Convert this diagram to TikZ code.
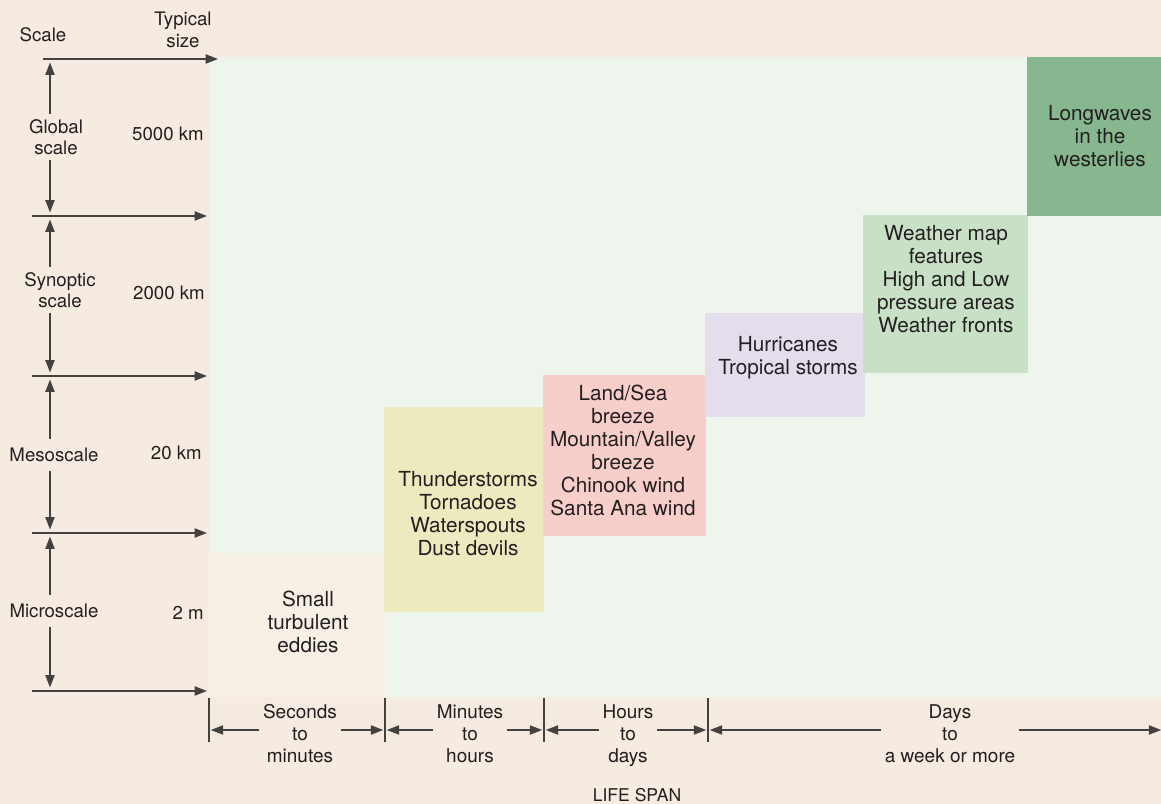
\documentclass[tikz,border=0pt]{standalone}
\usepackage{fontspec}
\setmainfont{TeX Gyre Heros}
\usetikzlibrary{arrows.meta, positioning}

\definecolor{paper}{HTML}{F5EBE0}
\definecolor{field}{HTML}{EEF5EC}
\definecolor{micro}{HTML}{F6F0E5}
\definecolor{meso}{HTML}{EDEAC0}
\definecolor{breeze}{HTML}{F8CECB}
\definecolor{storm}{HTML}{E3DDEC}
\definecolor{synop}{HTML}{C8E0C6}
\definecolor{globe}{HTML}{86B78F}
\definecolor{ink}{HTML}{231F20}

\begin{document}
\begin{tikzpicture}[
        x=0.02cm, y=-0.02cm,
        every node/.style={text=ink, font=\fontsize{10.6}{12.2}\selectfont},
        zone/.style={draw=none, inner sep=0, outer sep=0, anchor=north west},
        boxtext/.style={align=center, inner sep=0, font=\fontsize{11.8}{13.1}\selectfont},
        scalelbl/.style={align=center, inner sep=3pt},
        sizelbl/.style={anchor=east, inner sep=0},
        spanlbl/.style={align=center, inner sep=2pt, font=\fontsize{10.8}{12.5}\selectfont},
        arr/.style={-{Triangle[length=7pt,width=5.2pt]}, line width=0.8pt, draw=ink!85, fill=ink!85},
        vert/.style={arr, shorten >=2pt},
        span/.style={arr, shorten >=1pt},
        tick/.style={line width=0.9pt, draw=ink!85}
    ]
        \fill[paper] (0,0) rectangle (1161,804);
        \useasboundingbox (0,0) rectangle (1161,804);

        % chart field and the phenomena
        \node[zone, fill=field, minimum width=19.04cm, minimum height=12.8cm] (field) at (209,57) {};
        \node[zone, fill=micro, minimum width=3.52cm, minimum height=2.88cm] (eddies) at (209,553) {};
        \node[zone, fill=meso, minimum width=3.2cm, minimum height=4.1cm] (thunder) at (384,407) {};
        \node[zone, fill=breeze, minimum width=3.26cm, minimum height=3.22cm] (land) at (543,375) {};
        \node[zone, fill=storm, minimum width=3.2cm, minimum height=2.08cm] (hurr) at (705,313) {};
        \node[zone, fill=synop, minimum width=3.3cm, minimum height=3.16cm] (weather) at (863,215) {};
        \node[zone, fill=globe, minimum width=2.7cm, minimum height=3.18cm] (longw) at (1027,57) {};

        \node[boxtext] (eddiestxt) at (308,622) {Small\\turbulent\\eddies};
        \node[boxtext] (thundertxt) at (468,514) {Thunderstorms\\Tornadoes\\Waterspouts\\Dust devils};
        \node[boxtext] (landtxt) at (623,450) {Land/Sea\\breeze\\Mountain/Valley\\breeze\\Chinook wind\\Santa Ana wind};
        \node[boxtext] (hurrtxt) at (788,358) {Hurricanes\\Tropical storms};
        \node[boxtext] (weathertxt) at (946,279) {Weather map\\features\\High and Low\\pressure areas\\Weather fronts};
        \node[boxtext] (longtxt) at (1100,136) {Longwaves\\in the\\westerlies};

        % size axis
        \node (scalehead) at (43,35) {Scale};
        \node[align=center, inner sep=0] (sizehead) at (183,30) {Typical\\size};

        \coordinate (a0) at (43,59);
        \coordinate (b0) at (218,59);
        \foreach \n/\y in {1/216, 2/376, 3/533, 4/691} {
            \coordinate (a\n) at (32,\y);
            \coordinate (b\n) at (207,\y);
        }
        \foreach \n in {0,...,4}
            \draw[arr] (a\n) -- (b\n);
        \coordinate (axis) at (50,0);

        \node[scalelbl] (global) at (56,137) {Global\\scale};
        \node[scalelbl] (synoptic) at (60,290) {Synoptic\\scale};
        \node[scalelbl, inner sep=5pt] (mesoscale) at (54,455) {Mesoscale};
        \node[scalelbl, inner sep=5pt] (microscale) at (54,611) {Microscale};

        \foreach \s/\t/\b in {global/0/1, synoptic/1/2, mesoscale/2/3, microscale/3/4} {
            \draw[vert] (\s.north -| axis) -- (axis |- a\t);
            \draw[vert] (\s.south -| axis) -- (axis |- a\b);
        }

        \node[sizelbl] (s5000) at (204,134) {5000 km};
        \node[sizelbl] (s2000) at (205,293) {2000 km};
        \node[sizelbl] (s20) at (202,453) {20 km};
        \node[sizelbl] (s2) at (204,613) {2 m};

        % life span axis
        \foreach \n/\x in {0/209, 1/385, 2/544, 3/708} {
            \draw[tick] (\x,698) -- (\x,742);
            \coordinate (t\n) at (\x,730);
        }
        \coordinate (tend) at (1163,730);

        \node[spanlbl] (secs) at (300,734) {Seconds\\to\\minutes};
        \node[spanlbl] (mins) at (470,734) {Minutes\\to\\hours};
        \node[spanlbl] (hrs) at (628,736) {Hours\\to\\days};
        \node[spanlbl] (days) at (950,734) {Days\\to\\a week or more};

        \foreach \lbl/\l/\r in {secs/0/1, mins/1/2, hrs/2/3, days/3/end} {
            \draw[span] (\lbl.west |- t\l) -- (t\l);
            \draw[span] (\lbl.east |- t\r) -- (t\r);
        }

        \node[font=\fontsize{10}{12}\selectfont] (lifespan) at (637,795) {LIFE SPAN};
    \end{tikzpicture}
\end{document}
